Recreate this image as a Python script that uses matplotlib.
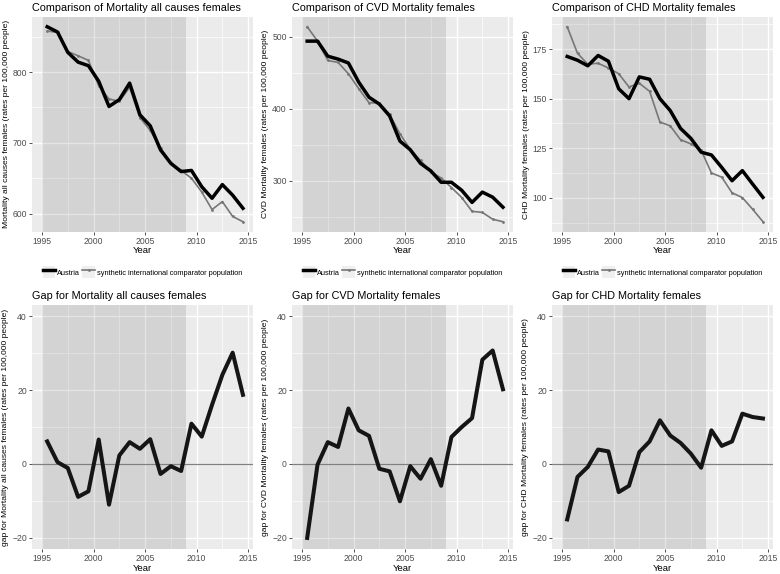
import matplotlib
matplotlib.use("Agg")
import matplotlib.pyplot as plt
from matplotlib.legend_handler import HandlerLine2D
from matplotlib.patches import Rectangle
import numpy as np

plt.rcParams['font.family'] = ['Liberation Sans', 'DejaVu Sans']

years = [1995.5, 1996.5, 1997.5, 1998.5, 1999.5, 2000.5, 2001.5, 2002.5, 2003.5, 2004.5,
         2005.5, 2006.5, 2007.5, 2008.5, 2009.5, 2010.5, 2011.5, 2012.5, 2013.5, 2014.5]

all_austria = [864, 856.6, 827.8, 814, 809, 787, 751.4, 761, 784.4, 739.6,
               724, 690, 671, 659.4, 661, 638, 621.7, 641, 626, 607.5]
all_synth = [858, 856, 829, 823, 816.5, 780.5, 762, 758.5, 778.4, 735.6,
             717.5, 692.5, 672, 661, 650, 630.5, 605.7, 617, 596, 588.5]
all_gap = [6.1, 0.5, -1.1, -8.9, -7.4, 6.6, -11, 2.3, 5.9, 4.1,
           6.7, -2.7, -0.6, -1.9, 10.9, 7.4, 16, 24.1, 30.1, 18.7]

cvd_austria = [494, 494, 473, 469, 463.6, 437, 416, 406.5, 390, 355,
               343, 324, 313.5, 297.7, 297.7, 286.5, 269.7, 284, 277, 263]
cvd_synth = [514, 494.2, 467.1, 464.4, 448.6, 427.9, 408.4, 407.8, 392, 365.1,
             343.6, 328, 312.2, 303.6, 290.4, 276.5, 257.3, 255.8, 246.3, 242.8]
cvd_gap = [-20, -0.2, 5.9, 4.6, 15, 9.1, 7.6, -1.3, -2, -10.1,
           -0.6, -4, 1.3, -5.9, 7.3, 10, 12.4, 28.2, 30.7, 20.2]

chd_austria = [171.3, 169.4, 166.6, 171.8, 168.9, 155, 150, 161, 159.8, 150,
               144, 135, 130, 123, 121.6, 115.3, 108.6, 113.7, 106.9, 100.2]
chd_synth = [186.3, 172.9, 167.4, 167.9, 165.5, 162.6, 155.9, 157.8, 153.7, 138.2,
             136.3, 129.3, 127.2, 124, 112.5, 110.4, 102.5, 100.1, 94.2, 87.9]
chd_gap = [-15, -3.5, -0.8, 3.9, 3.4, -7.6, -5.9, 3.2, 6.1, 11.8,
           7.7, 5.7, 2.8, -1, 9.1, 4.9, 6.1, 13.6, 12.7, 12.3]

titles_top = ["Comparison of Mortality all causes females",
              "Comparison of CVD Mortality females",
              "Comparison of CHD Mortality females"]
ylabels_top = ["Mortality all causes females (rates per 100,000 people)",
               "CVD Mortality females (rates per 100,000 people)",
               "CHD Mortality females (rates per 100,000 people)"]
titles_bot = ["Gap for Mortality all causes females",
              "Gap for CVD Mortality females",
              "Gap for CHD Mortality females"]
ylabels_bot = ["gap for Mortality all causes females (rates per 100,000 people)",
               "gap for CVD Mortality females (rates per 100,000 people)",
               "gap for CHD Mortality females (rates per 100,000 people)"]
top_major = [[600, 700, 800], [300, 400, 500], [100, 125, 150, 175]]
top_minor = [[650, 750, 850], [250, 350, 450], [87.5, 112.5, 137.5, 162.5, 187.5]]
gap_major = [-20, 0, 20, 40]
gap_minor = [-10, 10, 30]
x_major = [1995, 2000, 2005, 2010, 2015]
x_minor = [1997.5, 2002.5, 2007.5, 2012.5]
pre_start, pre_end = 1995, 2009

W, H = 780, 574
fig = plt.figure(figsize=(W / 100, H / 100), dpi=100)
fig.patch.set_facecolor('white')

lefts = [32, 292, 552]
pw = 221
top_row = (17, 231.5)
bot_row = (305, 549)

xlo = pre_start - 0.05 * (years[-1] - pre_start)
xhi = years[-1] + 0.05 * (years[-1] - pre_start)


class KeyBG(HandlerLine2D):
    def create_artists(self, legend, orig_handle, xdescent, ydescent, width,
                       height, fontsize, trans):
        arts = super().create_artists(legend, orig_handle, xdescent, ydescent,
                                      width, height, fontsize, trans)
        r = Rectangle((-xdescent, -ydescent), width, height, fc='#EFEFEF',
                      ec='none', transform=trans)
        return [r] + list(arts)


def style(ax, ymaj, ymin):
    ax.set_facecolor('#EBEBEB')
    for s in ax.spines.values():
        s.set_visible(False)
    ax.set_xticks(x_major)
    ax.set_xticks(x_minor, minor=True)
    ax.set_yticks(ymaj)
    ax.set_yticks(ymin, minor=True)
    ax.grid(True, which='major', color='white', linewidth=1.0, zorder=0)
    ax.grid(True, which='minor', color='white', linewidth=0.5, zorder=0)
    ax.set_axisbelow(True)
    ax.tick_params(which='major', length=2.5, width=0.6, color='#333333',
                   labelsize=6.2, labelcolor='#4D4D4D', pad=1.2)
    ax.tick_params(which='minor', length=0)
    ax.set_xlim(xlo, xhi)
    ax.axvspan(pre_start, pre_end, color='black', alpha=0.1, lw=0, zorder=1)
    ax.set_xlabel("Year", fontsize=6.8, labelpad=0.5)


def add_ax(left, row):
    t, b = row
    return fig.add_axes([left / W, 1 - b / H, pw / W, (b - t) / H])


top_data = [(all_austria, all_synth), (cvd_austria, cvd_synth), (chd_austria, chd_synth)]
gaps = [all_gap, cvd_gap, chd_gap]

for i in range(3):
    ax = add_ax(lefts[i], top_row)
    a, s = top_data[i]
    style(ax, top_major[i], top_minor[i])
    lo = min(min(a), min(s))
    hi = max(max(a), max(s))
    m = 0.05 * (hi - lo)
    ax.set_ylim(lo - m, hi + m)
    ls, = ax.plot(years, s, color='#777777', lw=1.2, marker='o', ms=1.0, zorder=3,
                  label='synthetic international comparator population')
    la, = ax.plot(years, a, color='black', lw=2.5, zorder=4, label='Austria')
    ax.set_title(titles_top[i], loc='left', fontsize=7.8, pad=4)
    ax.set_ylabel(ylabels_top[i], fontsize=6.1, labelpad=2)
    ax.legend([la, ls], ['Austria', 'synthetic international comparator population'],
              loc='center', bbox_to_anchor=(0.5, -0.19), ncol=2, frameon=False,
              fontsize=5.3, handlelength=1.7, handleheight=2.1,
              handletextpad=0.3, columnspacing=0.3, borderpad=0,
              handler_map={la: KeyBG(), ls: KeyBG()})

    ax = add_ax(lefts[i], bot_row)
    style(ax, gap_major, gap_minor)
    ax.set_ylim(-23, 43)
    ax.axhline(0, color='#808080', lw=0.9, zorder=2)
    ax.plot(years, gaps[i], color='#151515', lw=2.9, zorder=4)
    ax.set_title(titles_bot[i], loc='left', fontsize=7.8, pad=4)
    ax.set_ylabel(ylabels_bot[i], fontsize=6.1, labelpad=2)

fig.savefig('out.png', dpi=100)
